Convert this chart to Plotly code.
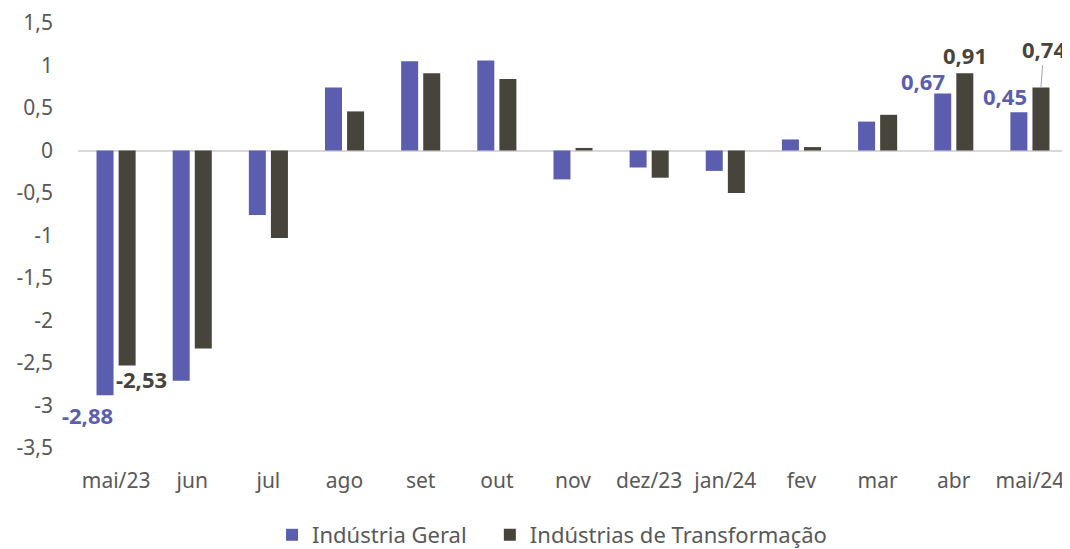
import plotly.graph_objects as go

categories = ["mai/23", "jun", "jul", "ago", "set", "out", "nov", "dez/23", "jan/24", "fev", "mar", "abr", "mai/24"]
industria_geral = [-2.88, -2.71, -0.76, 0.74, 1.05, 1.06, -0.34, -0.20, -0.24, 0.13, 0.34, 0.67, 0.45]
transformacao = [-2.53, -2.33, -1.03, 0.46, 0.91, 0.84, 0.03, -0.32, -0.50, 0.04, 0.42, 0.91, 0.74]
tick_vals = [1.5, 1, 0.5, 0, -0.5, -1, -1.5, -2, -2.5, -3, -3.5]
tick_text = ["1,5", "1", "0,5", "0", "-0,5", "-1", "-1,5", "-2", "-2,5", "-3", "-3,5"]

purple = "#5B5EAE"
dark = "#46443B"
font = "Noto Sans"
tick_color = "#595959"

fig = go.Figure()
fig.add_trace(go.Bar(x=categories, y=industria_geral, name="Indústria Geral",
                     marker=dict(color=purple, line=dict(width=0)), legend="legend"))
fig.add_trace(go.Bar(x=categories, y=transformacao, name="Indústrias de Transformação",
                     marker=dict(color=dark, line=dict(width=0)), legend="legend2"))

def fmt(v):
    return f"{v:.2f}".replace(".", ",")

# data labels: (category index, value, colour, xshift, yshift)
labels = [
    (0, industria_geral[0], purple, -29, -20),
    (0, transformacao[0], dark, 25, -13),
    (11, industria_geral[11], purple, -31, 13),
    (11, transformacao[11], dark, 11, 18),
    (12, industria_geral[12], purple, -25, 16),
]
for i, v, c, xs, ys in labels:
    fig.add_annotation(x=categories[i], y=v, text="<b>" + fmt(v) + "</b>", showarrow=False,
                       xshift=xs, yshift=ys, font=dict(family=font, size=22, color=c))

# 0,74 label with leader line
fig.add_annotation(x=categories[12], y=transformacao[12], text="<b>" + fmt(transformacao[12]) + "</b>",
                   showarrow=True, arrowhead=0, arrowwidth=1, arrowcolor="#A6A6A6",
                   ax=3, ay=-39, xshift=11, standoff=0,
                   font=dict(family=font, size=22, color=dark))

legend_common = dict(orientation="h", yref="container", y=0.0259, yanchor="middle",
                     xanchor="left", bgcolor="rgba(0,0,0,0)",
                     font=dict(family=font, size=22, color=tick_color), itemwidth=30)

fig.update_layout(
    width=1062, height=541,
    margin=dict(l=70, r=2, t=15, b=101),
    plot_bgcolor="white", paper_bgcolor="white",
    barmode="group", bargap=0.42, bargroupgap=0.23,
    font=dict(family=font, size=21, color=tick_color),
    showlegend=True,
    legend=dict(x=0.196, **legend_common),
    legend2=dict(x=0.416, **legend_common),
    xaxis=dict(range=[-0.5, 12.5], showgrid=False, showline=False, ticks="",
               ticklabelstandoff=18, automargin=False,
               tickfont=dict(family=font, size=21, color=tick_color)),
    yaxis=dict(range=[-3.5, 1.5], showgrid=False, zeroline=True, zerolinecolor="#D9D9D9",
               zerolinewidth=2, tickvals=tick_vals, ticktext=tick_text, ticks="",
               automargin=False,
               ticklabelstandoff=24, tickfont=dict(family=font, size=21, color=tick_color)),
)

fig.write_html("out.html")
